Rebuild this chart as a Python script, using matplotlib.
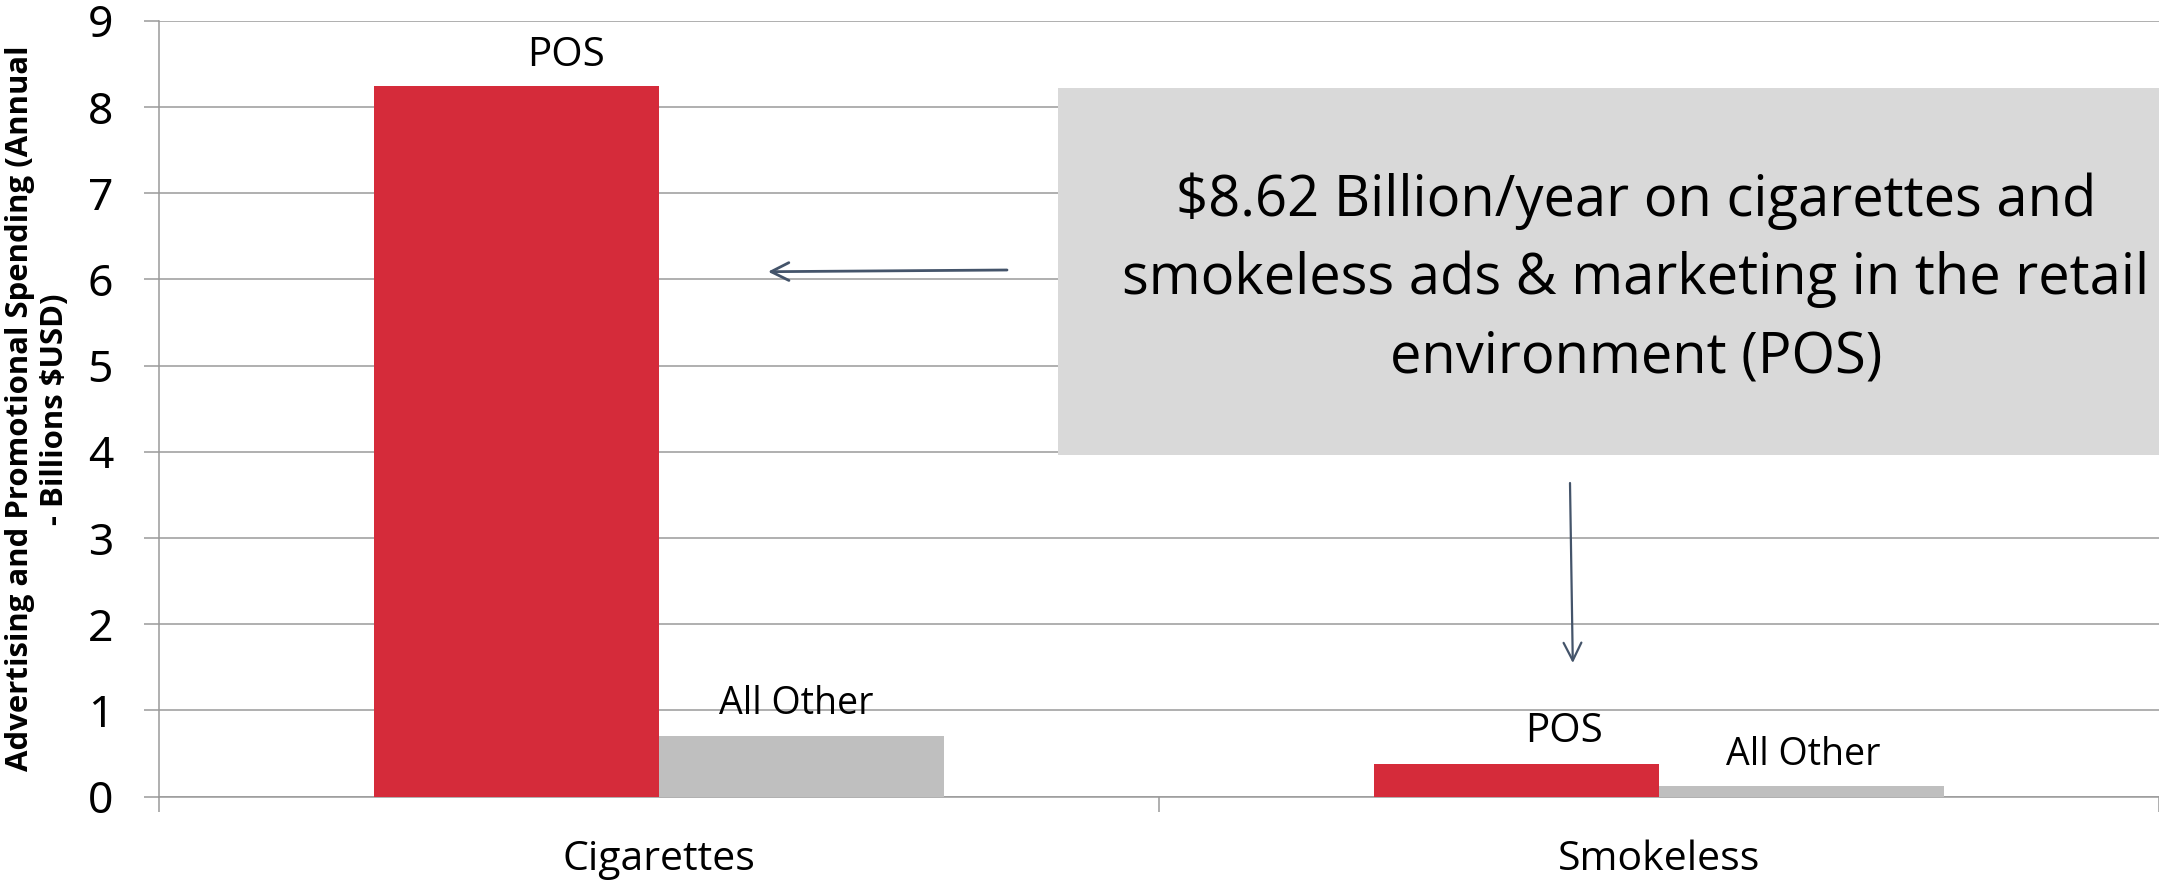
import matplotlib
matplotlib.use('Agg')
import matplotlib.pyplot as plt
from matplotlib import font_manager as fm
import numpy as np

# ---- data ----
categories = ['Cigarettes', 'Smokeless']
series_names = ['POS', 'All Other']
pos_values = [8.24, 0.38]
other_values = [0.70, 0.12]
yticks = list(range(0, 10))
ylabel_lines = ['Advertising and Promotional Spending (Annual', '- Billions \\$USD)']
callout_lines = ['\\$8.62 Billion/year on cigarettes and',
                 'smokeless ads & marketing in the retail',
                 'environment (POS)']

# ---- fonts ----
names = {f.name for f in fm.fontManager.ttflist}
REG = 'Open Sans' if 'Open Sans' in names else 'DejaVu Sans'
TICK = 'Noto Sans' if 'Noto Sans' in names else 'DejaVu Sans'

RED = '#d52b3a'
GREY_BAR = '#bfbfbf'
GRID = '#9a9a9a'
BOX = '#d9d9d9'
ARROW = '#44546a'

W, H, DPI = 2159, 880, 100
fig = plt.figure(figsize=(W / DPI, H / DPI), dpi=DPI)
renderer = fig.canvas.get_renderer()
PX = 72.0 / DPI  # points per pixel


def fit_size(text, target_px, base=30, **kw):
    t = fig.text(0, 0, text, fontsize=base, **kw)
    w = t.get_window_extent(renderer).width
    t.remove()
    return base * target_px / w


x0, x1 = 159.3, 2159.0
ytop, ybot = 20.8, 796.7
ax = fig.add_axes([x0 / W, 1 - ybot / H, (x1 - x0) / W, (ybot - ytop) / H])

x = np.arange(len(categories))
bw = 0.285
ax.bar(x - bw / 2, pos_values, width=bw, color=RED, zorder=3)
ax.bar(x + bw / 2, other_values, width=bw, color=GREY_BAR, zorder=3)

ax.set_xlim(-0.5, len(categories) - 0.5)
ax.set_ylim(0, 9)
ax.set_yticks(yticks)
ax.set_yticklabels([str(v) for v in yticks], fontsize=32, family=TICK)
ax.yaxis.grid(True, color=GRID, linewidth=1.1, zorder=0)
ax.set_axisbelow(True)
ax.tick_params(axis='y', length=15 * PX, width=1.1, color=GRID, pad=22.5)

ax.set_xticks(x)
ax.set_xticklabels(categories, fontsize=29.5, family=REG)
ax.set_xticks([-0.5, 0.5, 1.5], minor=True)
ax.tick_params(axis='x', which='major', length=0, pad=31)
ax.tick_params(axis='x', which='minor', length=15 * PX, width=1.1, color=GRID)

for s in ['top', 'right']:
    ax.spines[s].set_visible(False)
for s in ['left', 'bottom']:
    ax.spines[s].set_color(GRID)
    ax.spines[s].set_linewidth(1.1)

# bar labels (placed like the manual text boxes), offsets in pixels from bar top centre
label_offsets = {(0, 0): (49, 20), (0, 1): (-5, 22.7), (1, 0): (47, 22.3), (1, 1): (2, 21.7)}
label_sizes = [29, 27]
for ci in range(len(categories)):
    for si, vals in enumerate([pos_values, other_values]):
        xc = x[ci] + (si - 0.5) * bw
        dx, dy = label_offsets[(ci, si)]
        ax.annotate(series_names[si], (xc, vals[ci]), xytext=(dx, dy),
                    textcoords='offset pixels', ha='center', va='baseline',
                    fontsize=label_sizes[si], family=REG)

# y label
ys = fit_size(ylabel_lines[0], 726, family=REG, fontweight='bold')
fig.text(20 / W, 1 - 408 / H, ylabel_lines[0], rotation=90, ha='center', va='center',
         fontsize=ys, fontweight='bold', family=REG)
fig.text(55 / W, 1 - 409 / H, ylabel_lines[1], rotation=90, ha='center', va='center',
         fontsize=ys, fontweight='bold', family=REG)

# callout box
bx0, by0, by1 = 1058, 88, 455
fig.patches.append(plt.Rectangle((bx0 / W, 1 - by1 / H), (W - bx0) / W, (by1 - by0) / H,
                                 transform=fig.transFigure, facecolor=BOX, edgecolor='none', zorder=5))
cs = fit_size(callout_lines[0], 921, family=REG)
cs = min(cs, 40.5)
for i, line in enumerate(callout_lines):
    fig.text(1636 / W, 1 - (216 + 78 * i) / H, line, ha='center', va='baseline',
             fontsize=cs, family=REG, zorder=6)

# arrows
ax.annotate('', xy=(768 / W, 1 - 271.7 / H), xytext=(1007 / W, 1 - 270 / H),
            xycoords='figure fraction', textcoords='figure fraction',
            arrowprops=dict(arrowstyle='->', color=ARROW, lw=2.0, mutation_scale=32,
                            shrinkA=0, shrinkB=0), zorder=7)
ax.annotate('', xy=(1572.8 / W, 1 - 663 / H), xytext=(1570 / W, 1 - 483 / H),
            xycoords='figure fraction', textcoords='figure fraction',
            arrowprops=dict(arrowstyle='->', color=ARROW, lw=1.6, mutation_scale=32,
                            shrinkA=0, shrinkB=0), zorder=7)

fig.savefig('out.png', dpi=DPI)
